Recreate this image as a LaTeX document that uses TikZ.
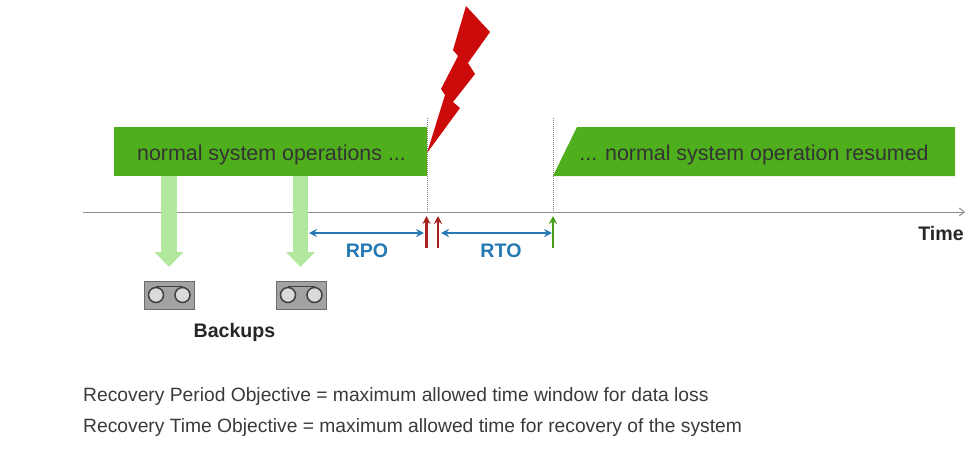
\documentclass[tikz,border=0pt]{standalone}
\usepackage{fontspec}
\setmainfont{Liberation Sans}
\usetikzlibrary{arrows.meta}
\definecolor{barg}{HTML}{4FAE1C}
\definecolor{lightg}{HTML}{B2E79E}
\definecolor{boltred}{HTML}{CC0A0A}
\definecolor{darkred}{HTML}{A8201F}
\definecolor{rblue}{HTML}{2478B4}
\definecolor{axisg}{HTML}{8E8E8E}
\definecolor{tapeg}{HTML}{A2A2A2}
\definecolor{tapel}{HTML}{DADADA}
\definecolor{txt}{HTML}{3A3A3A}
\tikzset{
  x=1pt,y=-1pt,
  bartext/.style={inner sep=0pt,font=\fontsize{21.4}{24}\selectfont,text=black!80},
  lbl/.style={inner sep=0pt,font=\fontsize{19.6}{22}\selectfont\bfseries},
  note/.style={inner sep=0pt,anchor=west,font=\fontsize{19.25}{22}\selectfont,text=txt},
  backupflow/.style={line width=15.5pt,draw=lightg,-{Triangle[length=15pt,width=28pt]}},
  span/.style={draw=rblue,line width=2pt,{Stealth[length=8pt,width=8pt]}-{Stealth[length=8pt,width=8pt]}},
  redmark/.style={draw=darkred,line width=2.2pt,-{Stealth[length=8pt,width=8pt]}},
  greenmark/.style={draw=barg!90!black,line width=2.2pt,-{Stealth[length=8pt,width=8pt]}},
  guide/.style={draw=gray,line width=1pt,densely dotted},
  tapebox/.style={draw=gray!85!black,fill=tapeg,line width=1pt,minimum width=50pt,minimum height=28pt,inner sep=0pt},
  reel/.style={circle,draw=gray!50!black,fill=tapel,line width=1.5pt,minimum size=15pt,inner sep=0pt},
}
\begin{document}
\begin{tikzpicture}
\useasboundingbox (0,0) rectangle (977,451);
% bars
\fill[barg] (114,127) -- (427,127) -- (427,176) -- (114,176) -- cycle;
\fill[barg] (553,176) -- (577,127) -- (955,127) -- (955,176) -- cycle;
\node[bartext] (normal) at (271.5,155) {normal system operations ...};
\node[bartext] (resumed) at (754,155) {... normal system operation resumed};
% axis
\coordinate (axL) at (83,212);
\coordinate (axR) at (965,212);
\draw[draw=axisg,line width=1pt,-{Straight Barb[length=5pt,width=8pt]}] (axL) -- (axR);
% guides
\coordinate (failTop) at (427,118);
\coordinate (failBot) at (427,212);
\coordinate (resTop) at (553.5,118);
\coordinate (resBot) at (553.5,212);
\draw[guide] (failTop) -- (failBot);
\draw[guide] (resTop) -- (resBot);
% lightning
\fill[boltred] (466,6) -- (490,32) -- (468,63) -- (475,74) -- (453,102) -- (460,108) -- (427,153)
  -- (445,95) -- (441,89) -- (458,56) -- (453,50) -- cycle;
% backups
\node[tapebox] (t1) at (169.5,295.5) {};
\node[tapebox] (t2) at (301.5,295.5) {};
\node[reel] (r1a) at (156,295) {};
\node[reel] (r1b) at (182.5,295) {};
\node[reel] (r2a) at (288,295) {};
\node[reel] (r2b) at (314.5,295) {};
\draw[draw=gray!50!black,line width=1.2pt] (r1a.north) -- (r1b.north);
\draw[draw=gray!50!black,line width=1.2pt] (r2a.north) -- (r2b.north);
\coordinate (b1s) at (169,176);
\coordinate (b1e) at (169,267);
\coordinate (b2s) at (300.5,176);
\coordinate (b2e) at (300.5,267);
\draw[backupflow] (b1s) -- (b1e);
\draw[backupflow] (b2s) -- (b2e);
% marks
\coordinate (m1s) at (426.5,248);
\coordinate (m1e) at (426.5,216);
\coordinate (m2s) at (438,248);
\coordinate (m2e) at (438,216);
\coordinate (m3s) at (553,248);
\coordinate (m3e) at (553,216);
\draw[redmark] (m1s) -- (m1e);
\draw[redmark] (m2s) -- (m2e);
\draw[greenmark] (m3s) -- (m3e);
% spans
\coordinate (rpoL) at (309,233);
\coordinate (rpoR) at (424,233);
\coordinate (rtoL) at (441,233);
\coordinate (rtoR) at (552,233);
\draw[span] (rpoL) -- (rpoR);
\draw[span] (rtoL) -- (rtoR);
\node[lbl,text=rblue] (rpo) at (367,251) {RPO};
\node[lbl,text=rblue] (rto) at (501,251) {RTO};
\node[lbl,text=black!85] (time) at (941,233.5) {Time};
\node[lbl,text=black!85] (backups) at (234.5,332) {Backups};
\node[note] (n1) at (83,397) {Recovery Period Objective = maximum allowed time window for data loss};
\node[note] (n2) at (83,428) {Recovery Time Objective = maximum allowed time for recovery of the system};
\end{tikzpicture}
\end{document}
